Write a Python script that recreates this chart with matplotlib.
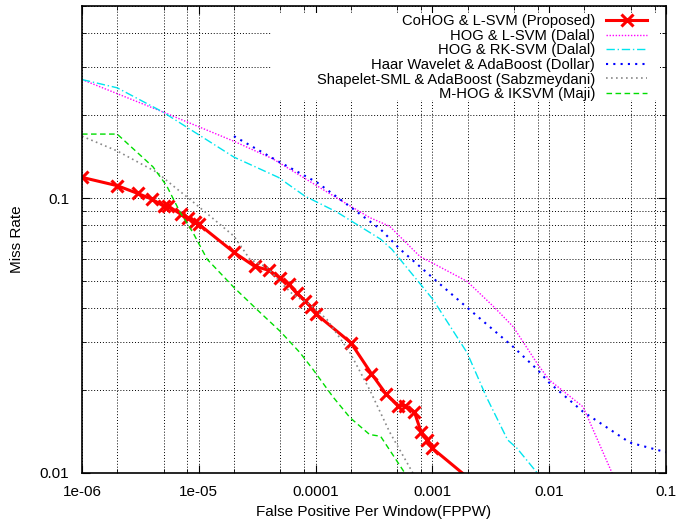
import numpy as np
import matplotlib.pyplot as plt
from matplotlib.patches import Rectangle
from matplotlib.ticker import LogLocator, FixedFormatter, FixedLocator, NullFormatter

plt.rcParams['font.family'] = ['Liberation Sans', 'DejaVu Sans']

# CoHOG & L-SVM (Proposed)
cohog_x = [1e-6, 2e-6, 3e-6, 4e-6, 5e-6, 5.5e-6, 7e-6, 8.1e-6, 9.3e-6, 1e-5,
           2e-5, 3e-5, 4e-5, 5e-5, 5.9e-5, 6.9e-5, 8.1e-5, 9.1e-5, 1e-4,
           2e-4, 3e-4, 4e-4, 5.1e-4, 5.8e-4, 7e-4, 8e-4, 9e-4, 1e-3, 1.8e-3]
cohog_y = [0.119, 0.111, 0.104, 0.099, 0.0935, 0.0935, 0.0874, 0.0845, 0.0817, 0.0804,
           0.0635, 0.0565, 0.0546, 0.0511, 0.0486, 0.045, 0.0424, 0.0403, 0.038,
           0.0298, 0.023, 0.0194, 0.0176, 0.0176, 0.0167, 0.0141, 0.0132, 0.0123, 0.01]

# HOG & L-SVM (Dalal)
dalal_x = [1e-6, 4.9e-6, 2e-5, 4.3e-5, 1.47e-4, 2.9e-4, 4.3e-4, 7.8e-4, 1.98e-3,
           3.4e-3, 4.9e-3, 8e-3, 1e-2, 1.95e-2, 3.45e-2]
dalal_y = [0.27, 0.206, 0.161, 0.139, 0.101, 0.085, 0.079, 0.0614, 0.0498,
           0.040, 0.0341, 0.0248, 0.0218, 0.0174, 0.01]

# HOG & RK-SVM (Dalal)
rk_x = [1e-6, 2e-6, 4.9e-6, 2e-5, 4.8e-5, 8.1e-5, 1.52e-4, 3.6e-4, 4.5e-4,
        1.01e-3, 1.98e-3, 2.9e-3, 4.4e-3, 5.3e-3, 7.9e-3]
rk_y = [0.27, 0.252, 0.206, 0.141, 0.119, 0.1017, 0.089, 0.0709, 0.0651,
        0.0428, 0.0274, 0.0189, 0.0132, 0.0123, 0.01]

# Haar Wavelet & AdaBoost (Dollar)
haar_x = [2e-5, 4.8e-5, 1.03e-4, 1.52e-4, 3.6e-4, 5.3e-4, 1.09e-3, 1.98e-3,
          4.9e-3, 7.9e-3, 1e-2, 1.95e-2, 4.9e-2, 0.1]
haar_y = [0.168, 0.136, 0.114, 0.101, 0.077, 0.0651, 0.0498, 0.040,
          0.0288, 0.0238, 0.0213, 0.0167, 0.0129, 0.0119]

# Shapelet-SML & AdaBoost (Sabzmeydani)
shape_x = [1e-6, 2e-6, 4.4e-6, 6e-6, 8.4e-6, 1.25e-5, 2e-5, 2.74e-5, 3.84e-5,
           5e-5, 6.4e-5, 8.95e-5, 1.25e-4, 1.97e-4, 2.9e-4, 4.3e-4, 6.8e-4]
shape_y = [0.168, 0.1485, 0.124, 0.111, 0.099, 0.086, 0.0727, 0.0599, 0.056,
           0.0494, 0.0446, 0.041, 0.0362, 0.0274, 0.0201, 0.0141, 0.01]

# M-HOG & IKSVM (Maji)
maji_x = [1e-6, 2e-6, 4.05e-6, 5.3e-6, 6.9e-6, 8.9e-6, 1.18e-5, 2e-5, 3.34e-5,
          5e-5, 7.35e-5, 9.5e-5, 1.41e-4, 1.97e-4, 2.9e-4, 3.6e-4, 5.8e-4]
maji_y = [0.171, 0.171, 0.130, 0.111, 0.089, 0.075, 0.0599, 0.0473, 0.0384,
          0.0327, 0.0274, 0.0238, 0.0189, 0.0159, 0.0138, 0.0136, 0.01]

x_ticks = [1e-6, 1e-5, 1e-4, 1e-3, 1e-2, 1e-1]
x_labels = ['1e-06', '1e-05', '0.0001', '0.001', '0.01', '0.1']
y_ticks = [0.01, 0.1]
y_labels = ['0.01', '0.1']

fig = plt.figure(figsize=(6.77, 5.22), dpi=100)
ax = fig.add_axes([0.1211, 0.0939, 0.8627, 0.8946])

ax.plot(cohog_x, cohog_y, color='red', lw=2.2, marker='x', ms=9, mew=2.2,
        markevery=list(range(len(cohog_x) - 1)), label='CoHOG & L-SVM (Proposed)')
ax.plot(dalal_x, dalal_y, color='#ff00ff', lw=1, ls=(0, (1, 1.2)), label='HOG & L-SVM (Dalal)')
ax.plot(rk_x, rk_y, color='#00e5ee', lw=1, ls=(0, (6, 2, 1, 2)), label='HOG & RK-SVM (Dalal)')
ax.plot(haar_x, haar_y, color='#0000ff', lw=1.5, ls=(0, (1, 2.5)), label='Haar Wavelet & AdaBoost (Dollar)')
ax.plot(shape_x, shape_y, color='#888888', lw=1.2, ls=(0, (1, 2)), label='Shapelet-SML & AdaBoost (Sabzmeydani)')
ax.plot(maji_x, maji_y, color='#00dd00', lw=1, ls=(0, (4, 2.5)), label='M-HOG & IKSVM (Maji)')

ax.set_xscale('log')
ax.set_yscale('log')
ax.set_xlim(1e-6, 0.1)
ax.set_ylim(0.01, 0.5)

ax.xaxis.set_major_locator(FixedLocator(x_ticks))
ax.xaxis.set_major_formatter(FixedFormatter(x_labels))
ax.xaxis.set_minor_locator(LogLocator(base=10, subs=[2, 5, 8]))
ax.xaxis.set_minor_formatter(NullFormatter())
ax.yaxis.set_major_locator(FixedLocator(y_ticks))
ax.yaxis.set_major_formatter(FixedFormatter(y_labels))
ax.yaxis.set_minor_locator(LogLocator(base=10, subs=[2, 3, 4, 5, 6, 7, 8, 9]))
ax.yaxis.set_minor_formatter(NullFormatter())

ax.tick_params(which='both', direction='in', top=True, right=True, labelsize=11)
ax.tick_params(which='major', length=6)
ax.tick_params(which='minor', length=3)
ax.tick_params(axis='x', which='major', pad=9)
ax.tick_params(axis='y', which='major', pad=9)
ax.grid(True, which='both', color='black', ls=(0, (1, 2)), lw=0.7)
ax.set_axisbelow(True)
for s in ax.spines.values():
    s.set_linewidth(1.2)

ax.set_xlabel('False Positive Per Window(FPPW)', fontsize=11)
ax.set_ylabel('Miss Rate', fontsize=11)
ax.xaxis.set_label_coords(0.5, -0.068)
ax.yaxis.set_label_coords(-0.1, 0.5)

# opaque key area, hides the grid behind the legend
ax.add_patch(Rectangle((0.325, 0.798), 0.665, 0.187, transform=ax.transAxes,
                       facecolor='white', edgecolor='none', zorder=1))

leg = ax.legend(loc='upper right', bbox_to_anchor=(0.978, 0.995), borderaxespad=0,
                markerfirst=False, fontsize=10.6, frameon=False,
                handlelength=2.8, labelspacing=0.04, handletextpad=0.75)

fig.savefig('out.png', dpi=100)
